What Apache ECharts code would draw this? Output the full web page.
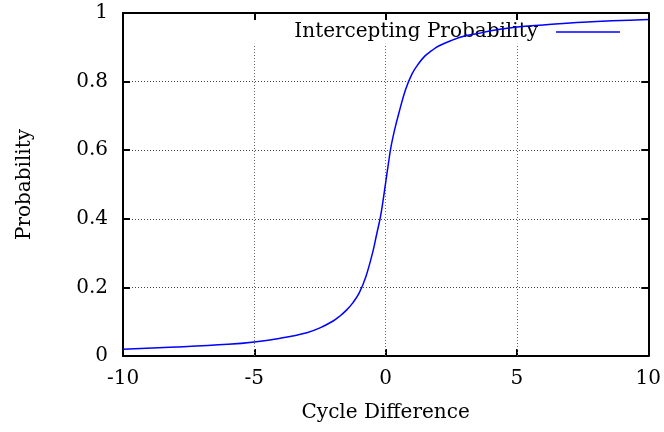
<!DOCTYPE html>
<html>
<head>
<meta charset="utf-8">
<title>Intercepting Probability</title>
<script src="https://cdn.jsdelivr.net/npm/echarts@6/dist/echarts.min.js"></script>
<style>
  html, body { margin: 0; padding: 0; background: #fff; }
  #chart { width: 664px; height: 432px; }
</style>
</head>
<body>
<div id="chart"></div>
<script>
// Cycle difference (x) and the probability of intercepting (y)
const cycleDiff = [-10, -8, -6, -5, -4, -3, -2.5, -2, -1.75, -1.5, -1.25, -1, -0.75, -0.5, -0.35, -0.2, -0.1, 0,
                   0.1, 0.2, 0.35, 0.5, 0.75, 1, 1.25, 1.5, 1.75, 2, 2.5, 3, 3.5, 4, 5, 6, 7.5, 10];
const probability = [0.020, 0.026, 0.034, 0.041, 0.052, 0.068, 0.082, 0.102, 0.116, 0.133, 0.155, 0.185, 0.232, 0.300, 0.352, 0.405, 0.452, 0.505,
                     0.558, 0.608, 0.662, 0.707, 0.775, 0.822, 0.852, 0.875, 0.890, 0.903, 0.920, 0.933, 0.940, 0.948, 0.959, 0.965, 0.973, 0.981];
const xTicks = [-10, -5, 0, 5, 10];
const yTicks = [0, 0.2, 0.4, 0.6, 0.8, 1];
const xGridAt = [-5, 0, 5];
const gridTop = 0.91; // vertical grid lines stop below the key

const font = 'DejaVu Serif';
const points = cycleDiff.map((x, i) => [x, probability[i]]);

const chart = echarts.init(document.getElementById('chart'), null, { renderer: 'canvas' });

const xBase = {
  type: 'value', min: xTicks[0], max: xTicks[xTicks.length - 1], interval: 5,
  axisLine: { show: true, onZero: false, lineStyle: { color: '#000', width: 2 } },
  axisTick: { show: true, inside: true, length: 7, lineStyle: { color: '#000', width: 2 } },
  splitLine: { show: false }
};
const yBase = {
  type: 'value', min: yTicks[0], max: yTicks[yTicks.length - 1], interval: 0.2,
  axisLine: { show: true, onZero: false, lineStyle: { color: '#000', width: 2 } },
  axisTick: { show: true, inside: true, length: 7, lineStyle: { color: '#000', width: 2 } }
};

chart.setOption({
  animation: false,
  backgroundColor: '#fff',
  textStyle: { fontFamily: font },
  grid: { left: 123, right: 15, top: 13, bottom: 76, containLabel: false },
  legend: {
    data: [{ name: 'Intercepting Probability', icon: 'rect' }],
    right: 39, top: 17,
    align: 'right',
    itemWidth: 64, itemHeight: 1.5,
    itemStyle: { color: '#0000ff' },
    textStyle: { fontFamily: font, fontSize: 20, color: '#000', padding: [0, 13, 0, 0] }
  },
  xAxis: [
    Object.assign({}, xBase, {
      position: 'bottom',
      name: 'Cycle Difference', nameLocation: 'middle', nameGap: 47,
      nameTextStyle: { fontFamily: font, fontSize: 20, color: '#000' },
      axisLabel: { show: true, margin: 13, color: '#000', fontFamily: font, fontSize: 20 }
    }),
    Object.assign({}, xBase, { position: 'top', axisLabel: { show: false } })
  ],
  yAxis: [
    Object.assign({}, yBase, {
      position: 'left',
      name: 'Probability', nameLocation: 'middle', nameGap: 88, nameRotate: 90,
      nameTextStyle: { fontFamily: font, fontSize: 20, color: '#000' },
      axisLabel: { show: true, margin: 15, color: '#000', fontFamily: font, fontSize: 20 },
      splitLine: { show: true, lineStyle: { color: '#444', type: [1, 2], width: 1 } }
    }),
    Object.assign({}, yBase, { position: 'right', axisLabel: { show: false }, splitLine: { show: false } })
  ],
  series: [
    {
      name: 'Intercepting Probability',
      type: 'line',
      data: points,
      smooth: 0.4,
      symbol: 'none',
      lineStyle: { color: '#0000ff', width: 1.5 },
      itemStyle: { color: '#0000ff' },
      z: 5,
      markLine: {
        silent: true,
        symbol: ['none', 'none'],
        label: { show: false },
        lineStyle: { color: '#666', type: [1, 2], width: 1 },
        data: xGridAt.map(x => [{ coord: [x, 0] }, { coord: [x, gridTop] }])
      }
    }
  ]
});
</script>
</body>
</html>
